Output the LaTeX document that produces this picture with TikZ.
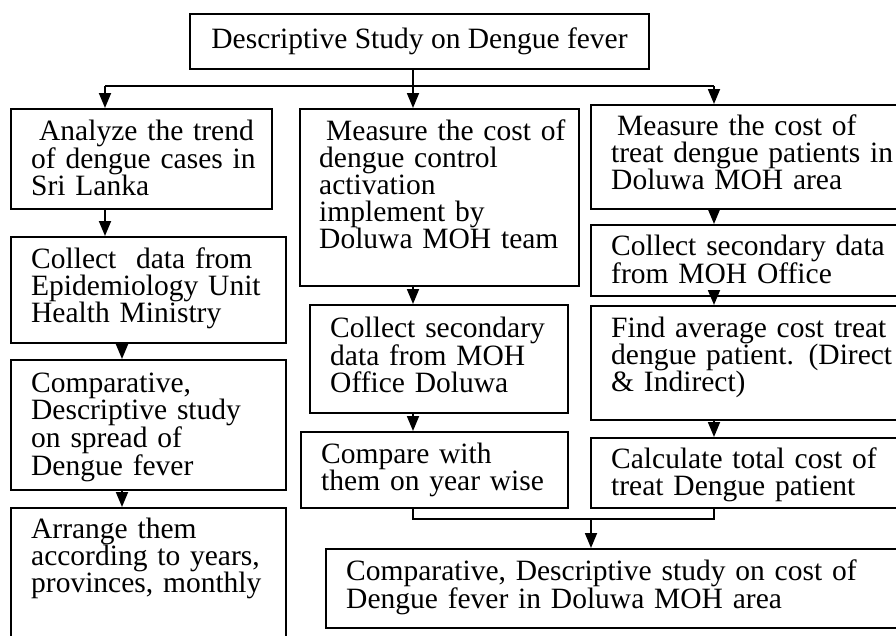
\documentclass[tikz,border=0pt]{standalone}
\usepackage{fontspec}
\setmainfont{Liberation Serif}
\usepackage{tikz}
\usetikzlibrary{arrows.meta,positioning}

\begin{document}
\begin{tikzpicture}[x=1pt,y=-1pt,
    box/.style={draw,line width=1.8pt,rectangle,inner sep=0pt,anchor=north west},
    txt/.style={anchor=base west,inner sep=0pt,text width=290pt,align=left,
      font=\fontsize{29.5pt}{27pt}\selectfont},
    link/.style={line width=1.8pt},
    arr/.style={line width=1.8pt,-{Triangle[length=15pt,width=12pt]}}]
  \clip (0,0) rectangle (896,635);
  \fill[white] (0,0) rectangle (896,635);
  % top box
  \node[draw,line width=1.8pt,minimum width=459pt,minimum height=55pt,inner sep=0pt,
    font=\fontsize{29.5pt}{27pt}\selectfont] (title) at (419.5,41.5) {Descriptive Study on Dengue fever};
  % left column
  \node[box,minimum width=261pt,minimum height=100pt] (a1) at (10,108) {};
  \node[box,minimum width=275pt,minimum height=106pt] (a2) at (10,236) {};
  \node[box,minimum width=275pt,minimum height=130pt] (a3) at (10,359) {};
  \node[box,minimum width=275pt,minimum height=140pt] (a4) at (10,507) {};
  % middle column
  \node[box,minimum width=279pt,minimum height=177pt] (b1) at (299,108) {};
  \node[box,minimum width=258pt,minimum height=108pt] (b2) at (309,304) {};
  \node[box,minimum width=267pt,minimum height=76pt] (b3) at (300,431) {};
  % right column
  \node[box,minimum width=320pt,minimum height=104pt] (c1) at (590,104) {};
  \node[box,minimum width=320pt,minimum height=71pt] (c2) at (590,224) {};
  \node[box,minimum width=320pt,minimum height=114pt] (c3) at (590,305) {};
  \node[box,minimum width=320pt,minimum height=70pt] (c4) at (590,437) {};
  % bottom box
  \node[box,minimum width=585pt,minimum height=79pt] (d) at (325,548) {};

  \node[txt] (a1t) at (31,140) {\hspace*{8pt}Analyze the trend\\of dengue cases in\\Sri Lanka};
  \node[txt] (a2t) at (31,268) {Collect\ \ data from\\Epidemiology Unit\\Health Ministry};
  \node[txt] (a3t) at (31,392) {Comparative,\\Descriptive study\\on spread of\\Dengue fever};
  \node[txt] (a4t) at (31,538) {Arrange them\\according to years,\\provinces, monthly};
  \node[txt] (b1t) at (319,140) {\hspace*{7pt}Measure the cost of\\dengue control\\activation\\implement by\\Doluwa MOH team};
  \node[txt] (b2t) at (330,337) {Collect secondary\\data from MOH\\Office Doluwa};
  \node[txt] (b3t) at (321,463) {Compare with\\them on year wise};
  \node[txt] (c1t) at (611,135) {\hspace*{6pt}Measure the cost of\\treat dengue patients in\\Doluwa MOH area};
  \node[txt] (c2t) at (611,255) {Collect secondary data\\from MOH Office};
  \node[txt] (c3t) at (611,337) {Find average cost treat\\dengue patient. (Direct\\\& Indirect)};
  \begin{scope}
    \clip (c4.north west) rectangle (c4.south east);
    \node[txt] (c4t) at (611,468) {Calculate total cost of\\treat Dengue patient};
  \end{scope}
  \node[txt,text width=560pt] (dt) at (346,580) {Comparative, Descriptive study on cost of\\Dengue fever in Doluwa MOH area};

  % branching
  \coordinate (bl) at (105,86);
  \coordinate (bm) at (413,86);
  \coordinate (bx) at (714,86);
  \coordinate (ax) at (122,0);
  \coordinate (mj) at (591,519);
  \draw[link] (title.south -| bm) -- (bm);
  \draw[link] (bl) -- (bx);
  \draw[arr] (bl) -- (a1.north -| bl);
  \draw[arr] (bm) -- (b1.north -| bm);
  \draw[arr] (bx) -- (c1.north -| bx);
  \draw[arr] (a1.south -| bl) -- (a2.north -| bl);
  \draw[arr] (a2.south -| ax) -- (a3.north -| ax);
  \draw[arr] (a3.south -| ax) -- (a4.north -| ax);
  \draw[arr] (b1.south -| bm) -- (b2.north -| bm);
  \draw[arr] (b2.south -| bm) -- (b3.north -| bm);
  \draw[arr] (c1.south -| bx) -- (c2.north -| bx);
  \draw[arr] (c2.south -| bx) -- (c3.north -| bx);
  \draw[arr] (c3.south -| bx) -- (c4.north -| bx);
  \draw[link] (b3.south -| bm) -- (bm |- mj) -- (bx |- mj) -- (c4.south -| bx);
  \draw[arr] (mj) -- (d.north -| mj);
\end{tikzpicture}
\end{document}
